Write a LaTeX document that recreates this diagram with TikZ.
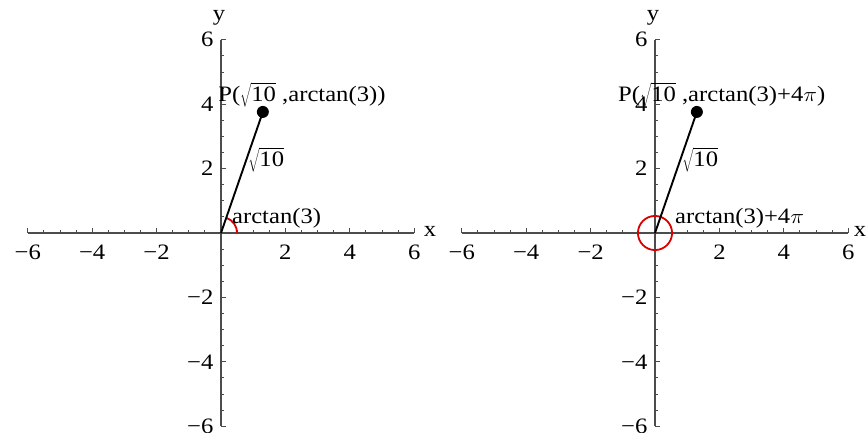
\documentclass[tikz,border=0pt]{standalone}
\usepackage{fontspec}
\setmainfont{Liberation Serif}
\usepackage{graphicx}
\newcommand{\hs}[1]{\scalebox{1.12}[1]{#1}}
\newcommand{\sqten}{$\sqrt{\hbox{\rule[-4pt]{0pt}{21pt}10}}$}
\tikzset{
  axisline/.style={draw=black!70, line width=1.2pt},
  ticklbl/.style={font=\fontsize{22}{24}\selectfont, inner sep=1pt},
  lbl/.style={font=\fontsize{22}{24}\selectfont, inner sep=0pt},
  radiusline/.style={draw=black, line width=1.9pt},
  angmark/.style={draw=red!85!black, line width=1.8pt},
  ptdot/.style={circle, fill=black, minimum size=12pt, inner sep=0pt},
}
\newcommand{\axesdraw}[1]{%
  \draw[axisline] (-6,0) -- (6,0);
  \draw[axisline] (0,-6) -- (0,6);
  \foreach \i in {-12,...,12}{
    \ifnum\i=0\relax\else
      \pgfmathtruncatemacro{\m}{mod(abs(\i),4)}
      \ifnum\m=0
        \draw[axisline, line width=0.9pt] (\i/2,0) -- ++(0,5pt);
        \draw[axisline, line width=0.9pt] (0,\i/2) -- ++(5pt,0);
      \else
        \draw[axisline, line width=0.9pt] (\i/2,0) -- ++(0,3pt);
        \draw[axisline, line width=0.9pt] (0,\i/2) -- ++(3pt,0);
      \fi
    \fi
  }
  \foreach \v/\t in {-6/−6,-4/−4,-2/−2,2/2,4/4,6/6}{
    \node[ticklbl] at (\v,-0.59) {\hs{\t}};
    \node[ticklbl, anchor=east] at (-0.2,\v) {\hs{\t}};
  }
  \node[lbl] (xl#1) at (#1,0.05) {\hs{x}};
  \node[lbl] (yl#1) at (-0.06,6.68) {\hs{y}};
}
\begin{document}
\begin{tikzpicture}[x=1pt,y=1pt]
\useasboundingbox (0,0) rectangle (867,433);
% left plot
\begin{scope}[shift={(221,200)}, x=32.2pt, y=32.2pt]
  \axesdraw{6.49}
  \coordinate (O1) at (0,0);
  \node[ptdot] (P1) at (1.3,3.76) {};
  \draw[angmark] (0.5,0) arc[start angle=0, end angle=71, radius=0.5];
  \draw[radiusline] (O1) -- (P1.center);
  \node[lbl, anchor=base west] (pl1) at (-0.09,4.07) {\hs{P(\sqten\ ,arctan(3))}};
  \node[lbl, anchor=base west] (r1) at (0.84,2.05) {\hs{\sqten}};
  \node[lbl, anchor=base west] (a1) at (0.34,0.28) {\hs{arctan(3)}};
\end{scope}
% right plot
\begin{scope}[shift={(655,200)}, x=32.2pt, y=32.2pt]
  \axesdraw{6.37}
  \coordinate (O2) at (0,0);
  \node[ptdot] (P2) at (1.3,3.76) {};
  \draw[angmark] (O2) circle[radius=0.53];
  \draw[radiusline] (O2) -- (P2.center);
  \node[lbl, anchor=base west] (pl2) at (-1.15,4.07) {\hs{P(\sqten\ ,arctan(3)+4$\pi$)}};
  \node[lbl, anchor=base west] (r2) at (0.84,2.05) {\hs{\sqten}};
  \node[lbl, anchor=base west] (a2) at (0.62,0.28) {\hs{arctan(3)+4$\pi$}};
\end{scope}
\end{tikzpicture}
\end{document}
